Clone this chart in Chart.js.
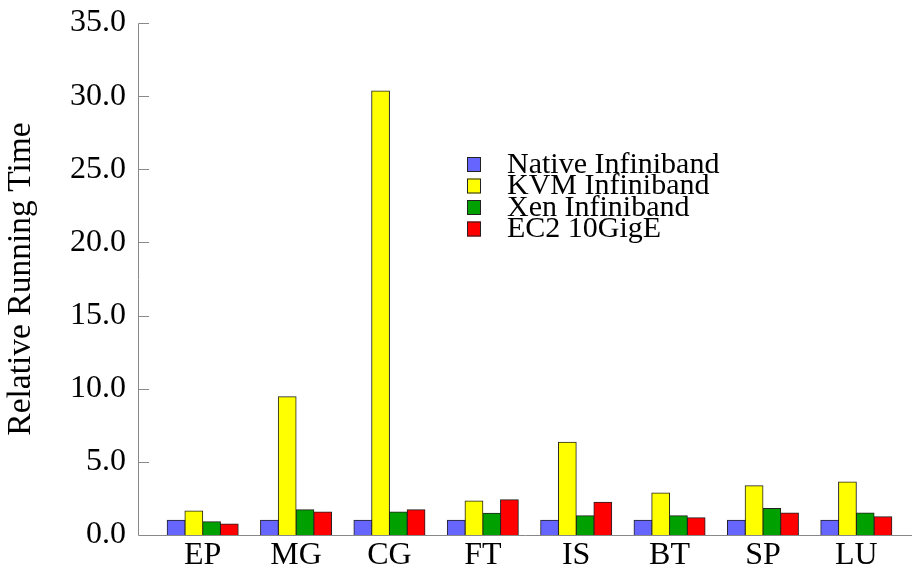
<!DOCTYPE html>
<html>
<head>
<meta charset="utf-8">
<script src="https://cdn.jsdelivr.net/npm/chart.js@4"></script>
<style>
html,body{margin:0;padding:0;background:#fff;}
#c{display:block;}
</style>
</head>
<body>
<canvas id="c" width="912" height="569"></canvas>
<script>
const categories = ["EP","MG","CG","FT","IS","BT","SP","LU"];
const seriesNames = ["Native Infiniband","KVM Infiniband","Xen Infiniband","EC2 10GigE"];
const nativeIB = [1.0, 1.0, 1.0, 1.0, 1.0, 1.0, 1.0, 1.0];
const kvmIB    = [1.64, 9.45, 30.35, 2.32, 6.34, 2.87, 3.37, 3.62];
const xenIB    = [0.91, 1.73, 1.57, 1.48, 1.32, 1.32, 1.82, 1.50];
const ec2      = [0.75, 1.57, 1.73, 2.41, 2.24, 1.18, 1.50, 1.25];
const yTicks   = [0, 5, 10, 15, 20, 25, 30, 35];
const colors   = ["#6666ff","#ffff00","#00a000","#ff0000"];

const FONT = "'Liberation Serif', 'Times New Roman', serif";

const axisPlugin = {
  id: 'axisPlugin',
  afterDraw(chart) {
    const ctx = chart.ctx;
    const y = chart.scales.y;
    const ax = 138.5;
    const y0 = Math.round(y.getPixelForValue(0)) + 0.5;
    ctx.save();
    ctx.strokeStyle = '#888';
    ctx.lineWidth = 1;
    ctx.beginPath();
    ctx.moveTo(ax, Math.round(y.getPixelForValue(35)) + 0.5);
    ctx.lineTo(ax, y0);
    ctx.lineTo(chart.width, y0);
    yTicks.forEach(v => {
      if (v === 0) return;
      const py = Math.round(y.getPixelForValue(v)) + 0.5;
      ctx.moveTo(ax, py);
      ctx.lineTo(149, py);
    });
    ctx.stroke();

    // legend
    const lx = 467, ly = 157, step = 21.5;
    ctx.font = '30px ' + FONT;
    ctx.textBaseline = 'alphabetic';
    ctx.textAlign = 'left';
    chart.data.datasets.forEach((ds, i) => {
      const top = ly + i * step;
      ctx.fillStyle = ds.backgroundColor;
      ctx.fillRect(lx, top, 14, 15);
      ctx.strokeStyle = '#222';
      ctx.strokeRect(lx + 0.5, top + 0.5, 13, 14);
      ctx.fillStyle = '#000';
      ctx.fillText(ds.label, 507, top + 15.5);
    });
    ctx.restore();
  }
};

const data = {
  labels: categories,
  datasets: [nativeIB, kvmIB, xenIB, ec2].map((arr, i) => ({
    label: seriesNames[i],
    data: arr,
    backgroundColor: colors[i],
    borderColor: '#222',
    borderWidth: 1,
    inflateAmount: 0.5,
    categoryPercentage: 0.76,
    barPercentage: 1.0
  }))
};

new Chart(document.getElementById('c'), {
  type: 'bar',
  data: data,
  plugins: [axisPlugin],
  options: {
    responsive: false,
    animation: false,
    devicePixelRatio: 1,
    layout: { padding: { top: 23, right: 9, left: 0, bottom: 0 } },
    plugins: { legend: { display: false }, tooltip: { enabled: false } },
    scales: {
      x: {
        grid: { display: false, drawTicks: false },
        border: { display: false },
        ticks: { color: '#000', font: { family: FONT, size: 32 }, padding: 1, maxRotation: 0, autoSkip: false },
        afterFit(s) { s.height = 34; s.paddingLeft = 0; s.paddingRight = 0; s.paddingTop = 0; s.paddingBottom = 0; }
      },
      y: {
        min: 0, max: 35,
        afterBuildTicks(s) { s.ticks = yTicks.map(v => ({ value: v })); },
        grid: { display: false, drawTicks: false },
        border: { display: false },
        ticks: { color: '#000', font: { family: FONT, size: 32 }, padding: 30,
                 callback: v => Number(v).toFixed(1) },
        title: { display: true, text: 'Relative Running Time', color: '#000',
                 font: { family: FONT, size: 33.5 }, padding: { top: 1, bottom: 0 } },
        afterFit(s) { s.width = 156; s.paddingTop = 0; s.paddingBottom = 0; s.paddingLeft = 0; s.paddingRight = 0; }
      }
    }
  }
});
</script>
</body>
</html>
